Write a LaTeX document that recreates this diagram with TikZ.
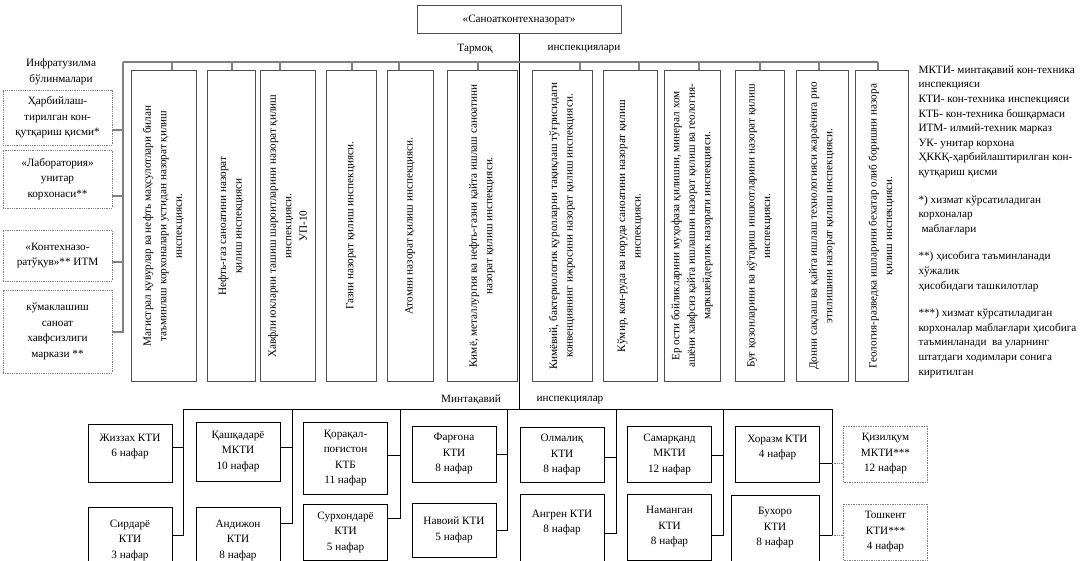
\documentclass[tikz,border=0pt]{standalone}
\usepackage{fontspec}
\setmainfont{Liberation Serif}
\definecolor{linegray}{RGB}{128,128,128}
\definecolor{boxgray}{RGB}{80,80,80}
\tikzset{
  txt/.style={font=\fontsize{11.2}{15.5}\selectfont},
  topline/.style={draw=linegray, line width=1.6pt},
  vbox/.style={txt, draw=boxgray, line width=1pt, rotate=90, align=center, minimum width=310pt, inner sep=1pt},
  infbox/.style={txt, draw=linegray, densely dotted, line width=0.8pt, align=center, minimum width=109pt},
  obox/.style={txt, draw, line width=0.7pt, align=center, minimum width=84pt, inner sep=1pt},
  qbox/.style={obox, draw=linegray, densely dotted},
  botline/.style={draw, line width=0.7pt},
}
\begin{document}
\begin{tikzpicture}[x=1pt,y=-1pt]
\useasboundingbox (0,0) rectangle (1087,561);
% head of the service
\node[txt, draw=boxgray, line width=1pt, minimum width=204pt, minimum height=28pt] (sanoat) at (519,20) {«Саноатконтехназорат»};
\node[txt] (tarmoq) at (475,49) {Тармоқ};
\node[txt] (inspa) at (584,49) {инспекциялари};
\coordinate (bus) at (519,62);
\coordinate (lbus) at (123,62);
\coordinate (rbus) at (878,62);
\coordinate (bbus) at (519,409);
\draw[line width=0.9pt] (sanoat.south) -- (bbus);
\draw[topline] (lbus) -- (rbus);
% branch inspections
\node[vbox, minimum height=65pt] (magist) at (163.5,226) {Магистрал қувурлар ва нефть маҳсулотлари билан\\таъминлаш корхоналари устидан назорат қилиш\\инспекцияси.};
\node[vbox, minimum height=48pt] (neftgaz) at (231,226) {Нефть-газ саноатини назорат\\қилиш инспекцияси};
\node[vbox, minimum height=55pt] (xavfli) at (287.5,226) {Хавфли юкларни ташиш шароитларини назорат қилиш\\инспекцияси.\\УП-10};
\node[vbox, minimum height=50pt] (gaz) at (351,226) {Газни назорат қилиш инспекцияси.};
\node[vbox, minimum height=46pt] (atom) at (410,226) {Атомни назорат қилиш инспекцияси.};
\node[vbox, minimum height=70pt] (kimyo) at (482,226) {Кимё, металлургия ва нефть-газни қайта ишлаш саноатини\\назорат қилиш инспекцияси.};
\node[vbox, minimum height=60pt] (qurol) at (562,226) {Кимёвий, бактериологик қуролларни тақиқлаш тўғрисидаги\\конвенциянинг ижросини назорат қилиш инспекцияси.};
\node[vbox, minimum height=54pt] (kumir) at (630,226) {Кўмир, кон-руда ва норуда саноатини назорат қилиш\\инспекцияси.};
\node[vbox, minimum height=56pt] (erosti) at (692,226) {Ер ости бойликларини муҳофаза қилишни, минерал хом\\ашёни хавфсиз қайта ишлашни назорат қилиш ва геология-\\маркшейдерлик назорати инспекцияси.};
\node[vbox, minimum height=49pt] (bug) at (759.5,226) {Буғ қозонларини ва кўтариш иншоотларини назорат қилиш\\инспекцияси.};
\node[vbox, minimum height=52pt] (don) at (822,226) {Донни сақлаш ва қайта ишлаш технологияси жараёнига рио\\этилишини назорат қилиш инспекцияси.};
\node[vbox, minimum height=53pt] (geolog) at (881.5,226) {Геология-разведка ишларини  бехатар олиб боришни назора\\қилиш инспекцияси.};
\foreach \n/\d in {magist/8.5,neftgaz/1,xavfli/-7.5,gaz/1,atom/-11,kimyo/-4,qurol/18,kumir/9,erosti/7,bug/0.5,don/-3,geolog/-3.5}
  \draw[topline] ([xshift=\d pt]\n.east) -- ([xshift=\d pt]\n.east |- bus);
% infrastructure units
\node[txt, align=center] (infra) at (61,72) {Инфратузилма\\бўлинмалари};
\node[infbox, minimum height=55pt] (harb) at (57.5,117.5) {Ҳарбийлаш-\\тирилган кон-\\қутқариш қисми*};
\node[infbox, minimum height=58pt] (labor) at (57.5,179) {«Лаборатория»\\унитар\\корхонаси**};
\node[infbox, minimum height=51pt] (kontex) at (57.5,255.5) {«Контехназо-\\ратўқув»** ИТМ};
\node[infbox, minimum height=83pt] (kumak) at (57.5,331.5) {кўмаклашиш\\саноат\\хавфсизлиги\\маркази **};
\foreach \b/\s in {harb/-12.5,labor/-17,kontex/-6.5,kumak/-0.5}
  \draw[topline] (lbus) |- ([yshift=\s pt]\b.east);
% legend
\node[txt, anchor=north west, align=left, font=\fontsize{11.2}{14.6}\selectfont] (legend) at (915,62) {МКТИ- минтақавий кон-техника\\инспекцияси\\КТИ- кон-техника инспекцияси\\КТБ- кон-техника бошқармаси\\ИТМ- илмий-техник марказ\\УК- унитар корхона\\ҲККҚ-ҳарбийлаштирилган кон-\\қутқариш қисми\\[13pt]*) хизмат кўрсатиладиган\\корхоналар\\\hspace{3pt}маблағлари\\[13pt]**) ҳисобига таъминланади\\хўжалик\\ҳисобидаги ташкилотлар\\[13pt]***) хизмат кўрсатиладиган\\корхоналар маблағлари ҳисобига\\таъминланади\ \ ва уларнинг\\штатдаги ходимлари сонига\\киритилган};
% regional inspections
\node[txt] (mintaq) at (471,400) {Минтақавий};
\node[txt] (inspb) at (570,400) {инспекциялар};
\foreach \c/\x in {c1/183,c2/292,c3/400,c4/507,c5/616,c6/723,c7/832}
  \coordinate (\c) at (\x,409);
\draw[botline] (c1) -- (c7);
\node[obox, minimum height=58pt] (jiz) at (130,453) {Жиззах КТИ\\6 нафар\\~};
\node[obox, minimum height=66pt] (sir) at (130,540) {Сирдарё\\КТИ\\3 нафар};
\node[obox, minimum height=59pt] (qash) at (238,451.5) {Қашқадарё\\МКТИ\\10 нафар};
\node[obox, minimum height=66pt] (andij) at (238,540) {Андижон\\КТИ\\8 нафар};
\node[obox, minimum height=72pt] (qqp) at (345.5,458) {Қорақал-\\поғистон\\КТБ\\11 нафар};
\node[obox, minimum height=56pt] (surx) at (345.5,532) {Сурхондарё\\КТИ\\5 нафар};
\node[obox, minimum height=56pt] (farg) at (454,454) {Фарғона\\КТИ\\8 нафар};
\node[obox, minimum height=54pt] (navoi) at (454,530) {Навоий КТИ\\5 нафар};
\node[obox, minimum height=55pt] (olmal) at (562,454.5) {Олмалиқ\\КТИ\\8 нафар};
\node[obox, minimum height=70pt] (angr) at (562,529) {Ангрен КТИ\\8 нафар\\~};
\node[obox, minimum height=56pt] (samar) at (669.5,454) {Самарқанд\\МКТИ\\12 нафар};
\node[obox, minimum height=66pt] (naman) at (669.5,527) {Наманган\\КТИ\\8 нафар};
\node[obox, minimum height=56pt] (xorazm) at (777.5,454) {Хоразм КТИ\\4 нафар\\~};
\node[obox, minimum height=66pt, minimum width=88pt] (buxoro) at (775,528) {Бухоро\\КТИ\\8 нафар};
\node[qbox, minimum height=56pt] (qizil) at (885.5,454) {Қизилқум\\МКТИ***\\12 нафар};
\node[qbox, minimum height=56pt] (tosh) at (885.5,532) {Тошкент\\КТИ***\\4 нафар};
\foreach \b/\s/\c in {jiz/6/c1,sir/5/c1,qash/4.5/c2,andij/17/c2,qqp/3/c3,surx/14/c3,farg/0/c4,navoi/0/c4,olmal/-2.5/c5,angr/-4/c5,samar/-1/c6,naman/-8/c6,xorazm/-9/c7,buxoro/-7/c7}
  \draw[botline] (\c) |- ([yshift=\s pt]\b.east);
\draw[botline, densely dotted, draw=linegray] ([yshift=-9pt]xorazm.east -| c7) -- ([yshift=-9pt]xorazm.east -| qizil.west);
\draw[botline, densely dotted, draw=linegray] ([yshift=-7pt]buxoro.east -| c7) -- ([yshift=-7pt]buxoro.east -| tosh.west);
\end{tikzpicture}
\end{document}
